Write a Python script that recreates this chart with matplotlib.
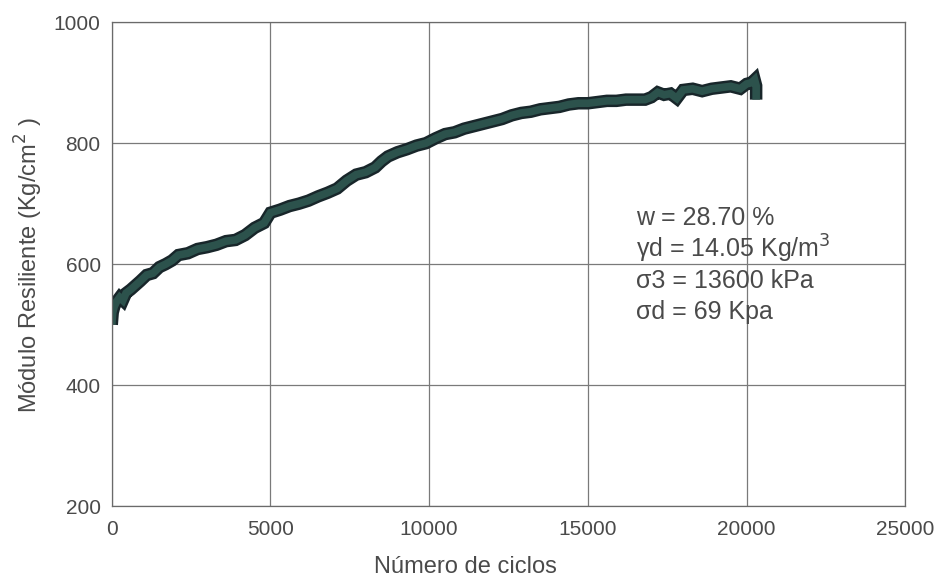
import matplotlib
matplotlib.use("Agg")
import matplotlib.pyplot as plt

plt.rcParams['font.family'] = ['Liberation Sans', 'DejaVu Sans']

ciclos = [0, 30, 80, 150, 250, 350, 450, 600, 750, 900, 1100, 1300, 1500, 1700,
          1900, 2100, 2400, 2700, 3000, 3300, 3600, 3900, 4200, 4500, 4800, 5000,
          5300, 5600, 5900, 6200, 6500, 6800, 7100, 7400, 7700, 8000, 8300, 8500,
          8700, 9000, 9300, 9600, 9900, 10200, 10500, 10800, 11100, 11400, 11700,
          12000, 12300, 12600, 12900, 13200, 13500, 13800, 14100, 14400, 14700,
          15000, 15300, 15600, 15900, 16200, 16500, 16800, 17000, 17200, 17400,
          17600, 17800, 18000, 18300, 18600, 18900, 19200, 19500, 19800, 20000,
          20150, 20250, 20300, 20300]
modulo = [500, 520, 530, 538, 545, 540, 552, 558, 565, 572, 582, 585, 595, 600,
          606, 615, 618, 625, 628, 632, 638, 640, 648, 660, 668, 685,
          690, 696, 700, 705, 712, 718, 725, 738, 748, 752, 760, 770,
          778, 785, 790, 796, 800, 808, 815, 818, 824, 828, 832,
          836, 840, 846, 850, 852, 856, 858, 860, 864, 866,
          866, 868, 870, 870, 872, 872, 872, 876, 884, 880,
          882, 874, 888, 890, 886, 890, 892, 894, 890, 898,
          900, 905, 895, 872]

x_ticks = [0, 5000, 10000, 15000, 20000, 25000]
y_ticks = [200, 400, 600, 800, 1000]
anot = ["w = 28.70 %", "γd = 14.05 Kg/m$^3$", "σ3 = 13600 kPa", "σd = 69 Kpa"]

gris = '#4a4a4a'
fig = plt.figure(figsize=(9.47, 5.85), dpi=100)
ax = fig.add_axes([0.118, 0.135, 0.838, 0.827])
ax.set_xlim(0, 25000)
ax.set_ylim(200, 1000)
ax.set_xticks(x_ticks)
ax.set_yticks(y_ticks)
ax.grid(True, color='#7a7a7a', linewidth=0.9)
ax.set_axisbelow(True)
for s in ax.spines.values():
    s.set_color('#6a6a6a')
    s.set_linewidth(0.9)
ax.tick_params(length=0, labelsize=15, colors=gris, pad=10)
ax.tick_params(axis='y', pad=8)

ax.plot(ciclos, modulo, color='#18262a', linewidth=9, solid_joinstyle='miter', solid_capstyle='butt')
ax.plot(ciclos, modulo, color='#2c524c', linewidth=5.5, solid_joinstyle='miter', solid_capstyle='butt')

y0 = 1 - 218 / 585
for i, t in enumerate(anot):
    fig.text(0.672, y0 - i * 0.0535, t, fontsize=18, color=gris, va='center', ha='left')

fig.text(0.492, 0.031, "Número de ciclos", fontsize=17, color=gris, ha='center', va='center')
fig.text(0.030, 0.547, "Módulo Resiliente (Kg/cm$^2$ )", fontsize=17, color=gris,
         rotation=90, ha='center', va='center')

fig.savefig("out.png", dpi=100)
